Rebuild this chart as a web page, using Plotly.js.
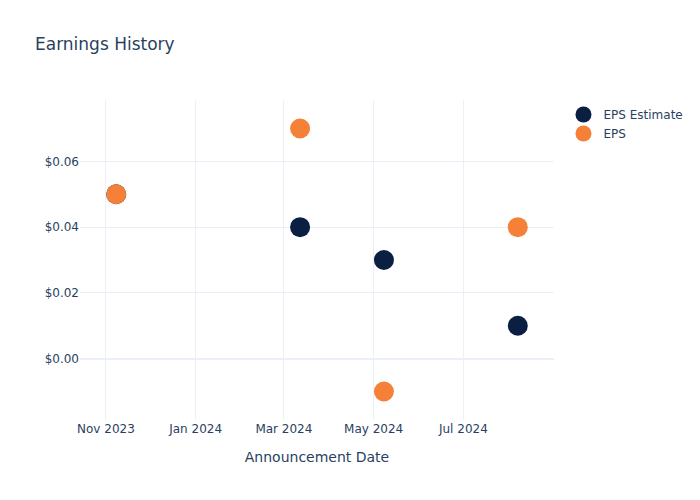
<!DOCTYPE html>
<html>
<head>
<meta charset="utf-8">
<script src="https://cdn.plot.ly/plotly-3.0.1.min.js"></script>
<style>html,body{margin:0;padding:0;}#chart{width:700px;height:500px;}</style>
</head>
<body>
<div id="chart"></div>
<script>
const dates = ["2023-11-08", "2024-03-12", "2024-05-08", "2024-08-07"];
const epsEstimate = [0.05, 0.04, 0.03, 0.01];
const eps = [0.05, 0.07, -0.01, 0.04];

const traces = [
  {x: dates, y: epsEstimate, name: "EPS Estimate", type: "scatter", mode: "markers",
   marker: {color: "#0B1F42", size: 20}},
  {x: dates, y: eps, name: "EPS", type: "scatter", mode: "markers",
   marker: {color: "#F58138", size: 20}}
];
const layout = {
  template: "plotly_white",
  width: 700, height: 500,
  paper_bgcolor: "white", plot_bgcolor: "white",
  font: {family: "'DejaVu Sans', verdana, sans-serif", color: "#2a3f5f"},
  title: {text: "Earnings History", x: 0.05, xanchor: "left", font: {size: 17, color: "#2a3f5f"}},
  xaxis: {title: {text: "Announcement Date", font: {size: 14}, standoff: 17}, automargin: true, type: "date",
    gridcolor: "#EBF0F8", zeroline: false, tickfont: {size: 12}, dtick: "M2", tickformat: "%b %Y"},
  yaxis: {tickprefix: "$", tickformat: ".2f", gridcolor: "#EBF0F8", zerolinecolor: "#EBF0F8",
    zerolinewidth: 2, tickfont: {size: 12}},
  legend: {font: {size: 12}},
  margin: {t: 100, b: 80, l: 80, r: 146}
};
Plotly.newPlot("chart", traces, layout, {displayModeBar: false});
</script>
</body>
</html>
